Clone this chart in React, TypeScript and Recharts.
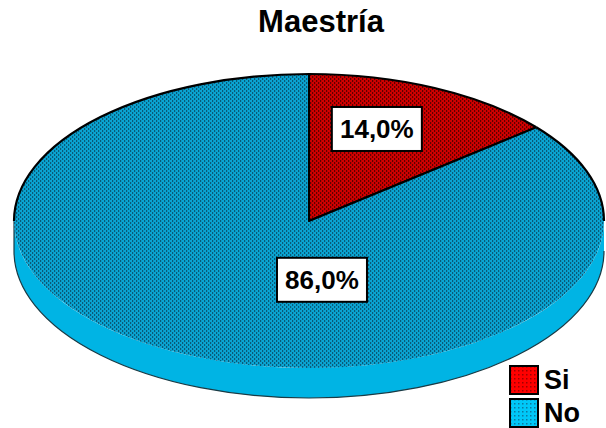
import { PieChart, Pie, Cell, Legend } from 'recharts';

const categories = ['Si', 'No'];
const percentages = [14.0, 86.0];

const data = categories.map((name, i) => ({ name, value: percentages[i] }));

const FONT = '"Liberation Sans", Arial, sans-serif';
const RX = 295;
const RY = 147;
const DEPTH = 30;
const RAD = Math.PI / 180;

const sliceStyle: Record<string, { top: string; side: string; legend: string; lx: number; ly: number }> = {
  Si: { top: 'url(#patSi)', side: '#b00000', legend: 'url(#legSi)', lx: 0.23, ly: -0.626 },
  No: { top: 'url(#patNo)', side: '#00b4e4', legend: 'url(#legNo)', lx: 0.044, ly: 0.4 },
};

function pt(cx: number, cy: number, a: number): [number, number] {
  return [cx + RX * Math.cos(-a * RAD), cy + RY * Math.sin(-a * RAD)];
}

// split [lo, hi] into pieces that lie on the front (lower) half of the ellipse or on the back half
function pieces(lo: number, hi: number, front: boolean) {
  const out: [number, number][] = [];
  for (let k = -2; k <= 1; k++) {
    const a = front ? -180 + 360 * k : 360 * k;
    const a1 = Math.max(lo, a);
    const a2 = Math.min(hi, a + 180);
    if (a2 - a1 > 0.01) out.push([a1, a2]);
  }
  return out;
}

// elliptical sector with a visible rim on the front half
const EllipseSector = (props: any) => {
  const { cx, cy, startAngle, endAngle, payload, name } = props;
  const key = payload?.name ?? name;
  const st = sliceStyle[key];
  const hi = Math.max(startAngle, endAngle);
  const lo = Math.min(startAngle, endAngle);

  const sides = pieces(lo, hi, true).map(([a1, a2]) => {
    const [x2, y2] = pt(cx, cy, a2);
    const [x1, y1] = pt(cx, cy, a1);
    return {
      fill: `M${x2},${y2} A${RX},${RY} 0 0 1 ${x1},${y1} L${x1},${y1 + DEPTH} A${RX},${RY} 0 0 0 ${x2},${y2 + DEPTH} Z`,
      edge: `M${x1},${y1} L${x1},${y1 + DEPTH} A${RX},${RY} 0 0 0 ${x2},${y2 + DEPTH}`,
    };
  });
  const backArcs = pieces(lo, hi, false).map(([a1, a2]) => {
    const [x2, y2] = pt(cx, cy, a2);
    const [x1, y1] = pt(cx, cy, a1);
    return `M${x2},${y2} A${RX},${RY} 0 0 1 ${x1},${y1}`;
  });

  const [sx, sy] = pt(cx, cy, startAngle);
  const [ex, ey] = pt(cx, cy, endAngle);
  const large = hi - lo > 180 ? 1 : 0;
  const top = `M${cx},${cy} L${sx},${sy} A${RX},${RY} 0 ${large} 1 ${ex},${ey} Z`;
  return (
    <g>
      {sides.map((s, i) => (
        <g key={i}>
          <path d={s.fill} fill={st.side} stroke="none" />
          <path d={s.edge} fill="none" stroke="#1a3a44" strokeWidth={1.2} />
        </g>
      ))}
      <path d={top} fill={st.top} stroke="none" />
      {backArcs.map((d, i) => (
        <path key={i} d={d} fill="none" stroke="#000" strokeWidth={2.2} />
      ))}
      <path d={`M${sx},${sy} L${cx},${cy} L${ex},${ey}`} fill="none" stroke="#000" strokeWidth={2} strokeLinejoin="round" />
    </g>
  );
};

const renderLabel = (props: any) => {
  const { cx, cy, name, percent } = props;
  const st = sliceStyle[name];
  const x = cx + RX * st.lx;
  const y = cy + RY * st.ly;
  return (
    <g>
      <rect x={x - 45} y={y - 22} width={90} height={44} fill="#fff" stroke="#000" strokeWidth={2} />
      <text x={x} y={y + 9} textAnchor="middle" fontFamily={FONT} fontWeight="bold" fontSize={26} fill="#000">
        {(percent * 100).toFixed(1).replace('.', ',')}%
      </text>
    </g>
  );
};

const renderLegend = () => (
  <div style={{ fontFamily: FONT }}>
    {categories.map((c) => (
      <div key={c} style={{ display: 'flex', alignItems: 'center', height: 33 }}>
        <svg width={30} height={30}>
          <rect x={1} y={1} width={28} height={28} fill={sliceStyle[c].legend} stroke="#000" strokeWidth={2} />
        </svg>
        <span style={{ fontSize: 27, fontWeight: 'bold', marginLeft: 5, lineHeight: '30px' }}>{c}</span>
      </div>
    ))}
  </div>
);

export default function App() {
  return (
    <div style={{ position: 'absolute', left: 0, top: 0, width: 606, height: 428, background: '#fff' }}>
      <svg width={0} height={0} style={{ position: 'absolute' }}>
        <defs>
          <pattern id="patNo" width={4} height={4} patternUnits="userSpaceOnUse">
            <rect width={4} height={4} fill="#0aa4d2" />
            <rect x={0} y={0} width={1.2} height={2} fill="#0a5a78" />
            <rect x={2} y={2} width={1.2} height={2} fill="#0a5a78" />
          </pattern>
          <pattern id="patSi" width={4} height={4} patternUnits="userSpaceOnUse">
            <rect width={4} height={4} fill="#d00000" />
            <rect x={0} y={0} width={1.2} height={2} fill="#600000" />
            <rect x={2} y={2} width={1.2} height={2} fill="#600000" />
          </pattern>
          <pattern id="legNo" width={4} height={4} patternUnits="userSpaceOnUse">
            <rect width={4} height={4} fill="#00c8f8" />
            <rect x={1} y={1} width={1.5} height={1.5} fill="#0a7aa0" />
          </pattern>
          <pattern id="legSi" width={4} height={4} patternUnits="userSpaceOnUse">
            <rect width={4} height={4} fill="#ff0000" />
            <rect x={1} y={1} width={1.5} height={1.5} fill="#a00000" />
          </pattern>
        </defs>
      </svg>
      <div
        style={{
          position: 'absolute',
          left: 0,
          top: 4,
          width: 642,
          textAlign: 'center',
          fontFamily: FONT,
          fontWeight: 'bold',
          fontSize: 31,
          color: '#000',
          zIndex: 2,
        }}
      >
        Maestría
      </div>
      <PieChart width={606} height={428} margin={{ top: 0, right: 0, bottom: 0, left: 0 }}>
        <Pie
          data={data}
          dataKey="value"
          nameKey="name"
          cx={309}
          cy={221}
          outerRadius={RX}
          startAngle={90}
          endAngle={-270}
          stroke="none"
          shape={EllipseSector}
          activeShape={EllipseSector}
          inactiveShape={EllipseSector}
          label={renderLabel}
          labelLine={false}
          isAnimationActive={false}
        >
          {data.map((d) => (
            <Cell key={d.name} fill={sliceStyle[d.name].top} />
          ))}
        </Pie>
        <Legend
          content={renderLegend}
          wrapperStyle={{ position: 'absolute', left: 509, top: 363, width: 100, bottom: 'auto' }}
        />
      </PieChart>
    </div>
  );
}
